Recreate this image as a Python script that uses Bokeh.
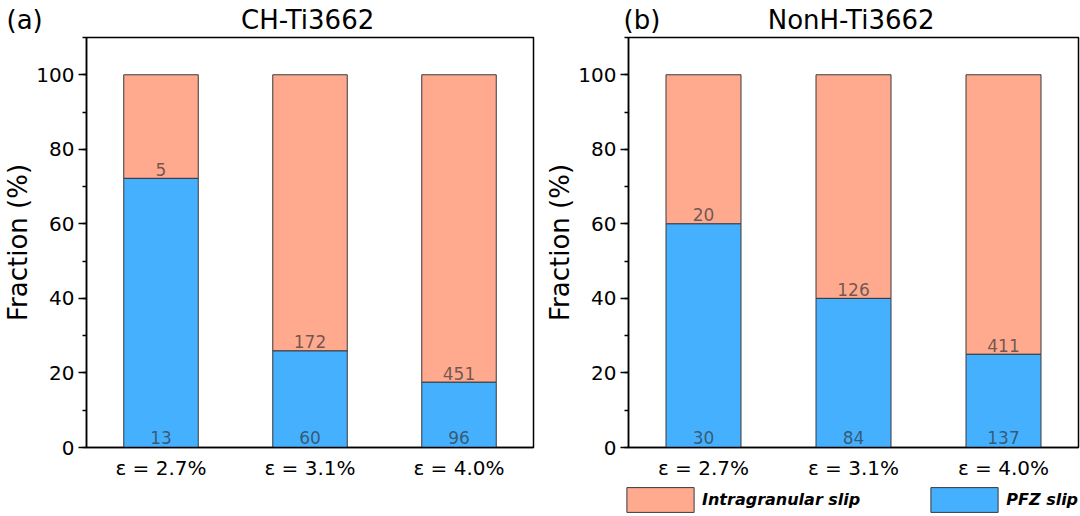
from bokeh.plotting import figure
from bokeh.layouts import row, column
from bokeh.models import ColumnDataSource, SingleIntervalTicker, Legend, LegendItem
from bokeh.core.properties import value
from bokeh.embed import file_html
from bokeh.resources import INLINE

# strain levels (x categories)
strains = ['ε = 2.7%', 'ε = 3.1%', 'ε = 4.0%']

# (a) CH-Ti3662 : PFZ slip fraction (%) and grain counts
ch_pfz = [72.2, 25.9, 17.5]
ch_pfz_n = ['13', '60', '96']
ch_intra_n = ['5', '172', '451']

# (b) NonH-Ti3662
nonh_pfz = [60.0, 40.0, 25.0]
nonh_pfz_n = ['30', '84', '137']
nonh_intra_n = ['20', '126', '411']

FONT = 'DejaVu Sans'
SALMON = '#FFA98F'
BLUE = '#45B0FE'
NB = '\u00a0'


def make_panel(title, tag_offset, pfz, pfz_n, intra_n, width, left, right):
    p = figure(x_range=strains, y_range=(0, 110), width=width, height=482,
               output_backend="svg", toolbar_location=None,
               min_border_left=left, min_border_right=right,
               min_border_top=37, min_border_bottom=35)
    p.x_range.range_padding = 0
    p.grid.visible = False
    p.outline_line_color = 'black'
    p.outline_line_width = 1.5

    # panel tag + title on one line
    p.title.text = title
    p.title.align = 'left'
    p.title.offset = tag_offset
    p.title.standoff = 3
    p.title.vertical_align = 'middle'
    p.title.text_font = FONT
    p.title.text_font_size = '26px'
    p.title.text_font_style = 'normal'
    p.title.text_color = 'black'

    src = ColumnDataSource(dict(x=strains, pfz=pfz, full=[100] * len(strains),
                                pfz_n=pfz_n, intra_n=intra_n, zero=[0] * len(strains)))
    p.vbar(x='x', bottom='pfz', top='full', width=0.5, source=src,
           fill_color=SALMON, line_color='#3a3a3a', line_width=1)
    p.vbar(x='x', bottom='zero', top='pfz', width=0.5, source=src,
           fill_color=BLUE, line_color='#3a3a3a', line_width=1)

    # counts written on the bars
    p.text(x='x', y='pfz', text='intra_n', source=src, text_align='center',
           text_baseline='alphabetic', y_offset=-9, text_font=value(FONT),
           text_font_size='17px', text_color='#333333', text_alpha=0.7)
    p.text(x='x', y='zero', text='pfz_n', source=src, text_align='center',
           text_baseline='alphabetic', y_offset=-10, text_font=value(FONT),
           text_font_size='17px', text_color='#333333', text_alpha=0.7)

    # axes
    p.yaxis.ticker = SingleIntervalTicker(interval=20, num_minor_ticks=2)
    p.yaxis.axis_label = 'Fraction (%)'
    p.yaxis.axis_label_text_font = FONT
    p.yaxis.axis_label_text_font_size = '26px'
    p.yaxis.axis_label_text_font_style = 'normal'
    p.yaxis.axis_label_text_color = 'black'
    p.yaxis.axis_label_standoff = 0
    p.yaxis.major_label_text_font = FONT
    p.yaxis.major_label_text_font_size = '20px'
    p.yaxis.major_label_standoff = 4
    p.yaxis.major_tick_in = 0
    p.yaxis.major_tick_out = 8
    p.yaxis.minor_tick_in = 0
    p.yaxis.minor_tick_out = 4
    p.yaxis.major_tick_line_width = 1.5
    p.yaxis.minor_tick_line_width = 1.5
    p.axis.axis_line_width = 1.5
    p.axis.major_label_text_color = 'black'

    p.xaxis.major_tick_in = 0
    p.xaxis.major_tick_out = 0
    p.xaxis.minor_tick_line_color = None
    p.xaxis.major_label_text_font = FONT
    p.xaxis.major_label_text_font_size = '20px'
    p.xaxis.major_label_standoff = 8
    return p


pa = make_panel('(a)' + NB * 24 + 'CH-Ti3662', -80,
                ch_pfz, ch_pfz_n, ch_intra_n, 540, 82, 7)
pb = make_panel('(b)' + NB * 13 + 'NonH-Ti3662', -5,
                nonh_pfz, nonh_pfz_n, nonh_intra_n, 540, 88, 2)

# legend strip under panel (b); the key glyphs sit outside the strip's range
leg = figure(width=1080, height=34, x_range=(0, 1), y_range=(0, 1),
             output_backend="svg", toolbar_location=None,
             x_axis_location=None, y_axis_location=None, min_border=0)
leg.outline_line_color = None
leg.grid.visible = False
k_intra = leg.vbar(x=[5], top=[1], width=0.5, fill_color=SALMON, line_color='#3a3a3a', line_width=1)
k_pfz = leg.vbar(x=[5], top=[1], width=0.5, fill_color=BLUE, line_color='#3a3a3a', line_width=1)
leg.add_layout(Legend(items=[LegendItem(label='Intragranular slip', renderers=[k_intra]),
                             LegendItem(label='PFZ slip', renderers=[k_pfz])],
                      location=(618, 1), orientation='horizontal',
                      glyph_width=84, glyph_height=31, label_standoff=0,
                      spacing=62, padding=0, margin=0,
                      label_text_font=FONT, label_text_font_size='16px',
                      label_text_font_style='bold italic', label_text_color='black',
                      background_fill_alpha=0, border_line_color=None))

p = column(row(pa, pb), leg)
open("out.html", "w").write(file_html(p, INLINE))
